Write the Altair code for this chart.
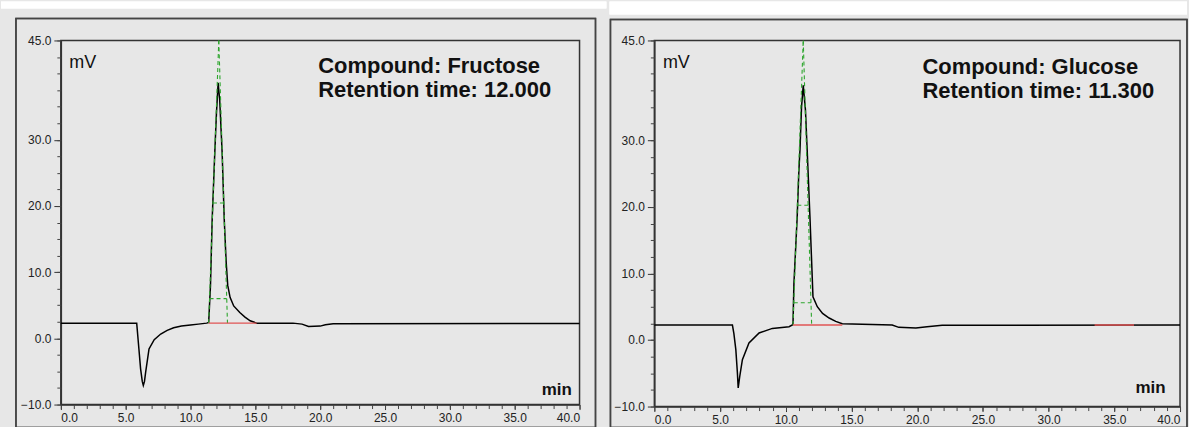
import altair as alt
import pandas as pd

# ---------------- data ----------------
# Fructose chromatogram (time in min, signal in mV)
fru_t = [0, 5.85, 6.02, 6.15, 6.28, 6.36, 6.45, 6.54, 6.8, 7.2, 7.7, 8.2, 8.7, 9.3, 10.0, 10.6, 11.25,
         11.4, 11.54, 11.67, 11.87, 12.0, 12.13, 12.25, 12.44, 12.6, 12.75, 12.87, 13.05, 13.33, 13.8,
         14.2, 14.6, 15.1, 17.9, 18.6, 19.1, 20.0, 20.4, 21.0, 40]
fru_mv = [2.3, 2.3, -1.6, -4.6, -6.5, -7.1, -6.5, -5.1, -1.6, -0.2, 0.65, 1.2, 1.6, 1.85, 2.0, 2.15, 2.3,
          2.4, 8.0, 18.0, 28.0, 34.0, 38.6, 36.0, 28.0, 18.0, 11.5, 8.0, 6.2, 4.9, 3.9,
          3.2, 2.65, 2.3, 2.3, 2.15, 1.8, 1.85, 2.05, 2.2, 2.25]

# Glucose chromatogram
glu_t = [0, 5.94, 6.05, 6.2, 6.32, 6.38, 6.5, 6.7, 7.2, 7.97, 8.98, 10.25, 10.5, 10.55, 10.62, 10.87,
         11.0, 11.08, 11.2, 11.33, 11.5, 11.63, 11.84, 12.07, 12.4, 12.8, 13.3, 13.8, 14.3, 18.1, 18.6,
         19.9, 20.75, 21.9, 40]
glu_mv = [2.25, 2.25, 1.0, -1.45, -4.95, -7.2, -5.45, -2.95, -0.45, 1.05, 1.74, 2.0, 2.25, 2.5, 8.5, 18.5,
          25.5, 28.5, 35.0, 38.26, 34.5, 28.5, 18.5, 6.5, 5.0, 4.0, 3.3, 2.8, 2.45, 2.25, 1.9,
          1.8, 2.0, 2.2, 2.25]

# Green dashed peak-construction lines (segment id, time, mV)
fru_g_seg = ["l", "l", "r", "r", "h", "h", "b", "b"]
fru_g_t = [11.4, 12.18, 12.85, 12.18, 11.73, 12.565, 11.468, 12.79]
fru_g_mv = [2.3, 45, 2.3, 45, 20.45, 20.45, 6.0, 6.0]

glu_g_seg = ["l", "l", "r", "r", "h", "h", "b", "b"]
glu_g_t = [10.55, 11.33, 11.97, 11.33, 10.88, 11.70, 10.61, 11.92]
glu_g_mv = [2.25, 45, 2.25, 45, 20.25, 20.25, 5.6, 5.6]

# Red baseline segments
fru_r_seg = ["a", "a"]
fru_r_t = [11.4, 15.1]
fru_r_mv = [2.3, 2.3]

glu_r_seg = ["a", "a", "b", "b"]
glu_r_t = [10.55, 14.3, 33.5, 36.5]
glu_r_mv = [2.25, 2.25, 2.25, 2.25]

# Axis ticks
y_major = [-10, 0, 10, 20, 30, 45]
y_minor = [-10, -7.5, -5, -2.5, 0, 2.5, 5, 7.5, 10, 12.5, 15, 17.5, 20, 22.5, 25, 27.5,
           30, 32.5, 35, 37.5, 40, 42.5, 45]
x_major = [0, 5, 10, 15, 20, 25, 30, 35, 40]
x_minor = list(range(0, 41))

# Annotations
fru_text = ["Compound: Fructose", "Retention time: 12.000"]
glu_text = ["Compound: Glucose", "Retention time: 11.300"]

FONT = "Liberation Sans"


def panel(t, mv, g_seg, g_t, g_mv, r_seg, r_t, r_mv, texts, w, h,
          txt_x, txt_y, min_x, min_y, frame, strip):
    xs = alt.Scale(domain=[0, 40], nice=False, zero=False)
    ys = alt.Scale(domain=[-10, 45], nice=False, zero=False)

    trace = pd.DataFrame({"t": t, "mv": mv})
    green = pd.DataFrame({"seg": g_seg, "t": g_t, "mv": g_mv})
    red = pd.DataFrame({"seg": r_seg, "t": r_t, "mv": r_mv})
    minor = pd.DataFrame({"t": [0, 40], "mv": [-10, 45]})
    ann = pd.DataFrame({"t": [txt_x, txt_x], "mv": txt_y, "txt": texts})
    mv_lbl = pd.DataFrame({"t": [0.65], "mv": [40.85], "txt": ["mV"]})
    min_lbl = pd.DataFrame({"t": [min_x], "mv": [min_y], "txt": ["min"]})

    common_axis = dict(grid=False, domainColor="#333", domainWidth=1.5, tickColor="#333",
                       labelFont=FONT, labelFontSize=12, labelColor="#222",
                       minExtent=45, maxExtent=45, title=None)

    white = alt.Chart(minor).mark_rect(fill="white", stroke=None).encode(
        x=alt.value(strip[0]), x2=alt.value(strip[1]),
        y=alt.value(strip[2]), y2=alt.value(strip[3]))

    frm = alt.Chart(minor).mark_rect(fill=None, stroke="#444", strokeWidth=1.5).encode(
        x=alt.value(frame[0]), x2=alt.value(frame[1]),
        y=alt.value(frame[2]), y2=alt.value(frame[3]))

    line = alt.Chart(trace).mark_line(color="black", strokeWidth=1.5).encode(
        x=alt.X("t:Q", scale=xs, axis=alt.Axis(values=x_major, format=".1f", tickSize=5,
                                                labelPadding=3, orient="bottom", **common_axis)),
        y=alt.Y("mv:Q", scale=ys, axis=alt.Axis(values=y_major, format=".1f", tickSize=7,
                                                 labelPadding=3, orient="left", **common_axis)),
        order="t:Q")

    minor_axes = alt.Chart(minor).mark_point(opacity=0).encode(
        x=alt.X("t:Q", scale=xs, axis=alt.Axis(values=x_minor, labels=False, tickSize=4,
                                                tickWidth=1, tickColor="#444",
                                                domain=False, orient="bottom",
                                                **{k: v for k, v in common_axis.items()
                                                   if k != "tickColor"})),
        y=alt.Y("mv:Q", scale=ys, axis=alt.Axis(values=y_minor, labels=False, tickSize=4,
                                                 tickWidth=1, tickColor="#444",
                                                 domain=False, orient="left",
                                                 **{k: v for k, v in common_axis.items()
                                                    if k != "tickColor"})))

    g = alt.Chart(green).mark_line(color="#2ea62e", strokeWidth=1.1, strokeDash=[4, 3]).encode(
        x=alt.X("t:Q", scale=xs, axis=None), y=alt.Y("mv:Q", scale=ys, axis=None),
        detail="seg:N")

    r = alt.Chart(red).mark_line(color="#e05555", strokeWidth=1.3).encode(
        x=alt.X("t:Q", scale=xs, axis=None), y=alt.Y("mv:Q", scale=ys, axis=None),
        detail="seg:N")

    txt = alt.Chart(ann).mark_text(font=FONT, fontSize=22, fontWeight="bold", align="left",
                                   baseline="alphabetic", color="#111").encode(
        x=alt.X("t:Q", scale=xs, axis=None), y=alt.Y("mv:Q", scale=ys, axis=None), text="txt:N")

    mvt = alt.Chart(mv_lbl).mark_text(font=FONT, fontSize=18, align="left",
                                      baseline="alphabetic", color="#111").encode(
        x=alt.X("t:Q", scale=xs, axis=None), y=alt.Y("mv:Q", scale=ys, axis=None), text="txt:N")

    mint = alt.Chart(min_lbl).mark_text(font=FONT, fontSize=17, fontWeight="bold", align="right",
                                        baseline="alphabetic", color="#111").encode(
        x=alt.X("t:Q", scale=xs, axis=None), y=alt.Y("mv:Q", scale=ys, axis=None), text="txt:N")

    return alt.layer(white, frm, line, minor_axes, g, r, txt, mvt, mint).resolve_axis(
        x="independent", y="independent").properties(width=w, height=h)


left = panel(fru_t, fru_mv, fru_g_seg, fru_g_t, fru_g_mv, fru_r_seg, fru_r_t, fru_r_mv,
             fru_text, 520, 365, 19.85, [40.1, 36.5], 39.4, -8.6,
             frame=(-45, 536, -22, 388), strip=(-60, 547, -39, -32))
right = panel(glu_t, glu_mv, glu_g_seg, glu_g_t, glu_g_mv, glu_r_seg, glu_r_t, glu_r_mv,
              glu_text, 527, 367, 20.4, [39.9, 36.3], 38.9, -7.9,
              frame=(-44, 534, -21, 388), strip=(-45, 534, -39, -26))

chart = alt.hconcat(left, right, spacing=75, bounds="flush").properties(
    padding=0, background="#e7e7e7"
).configure_view(stroke="#333", strokeWidth=1.5)

chart.save("out.html", embed_options={"renderer": "svg", "actions": False})
